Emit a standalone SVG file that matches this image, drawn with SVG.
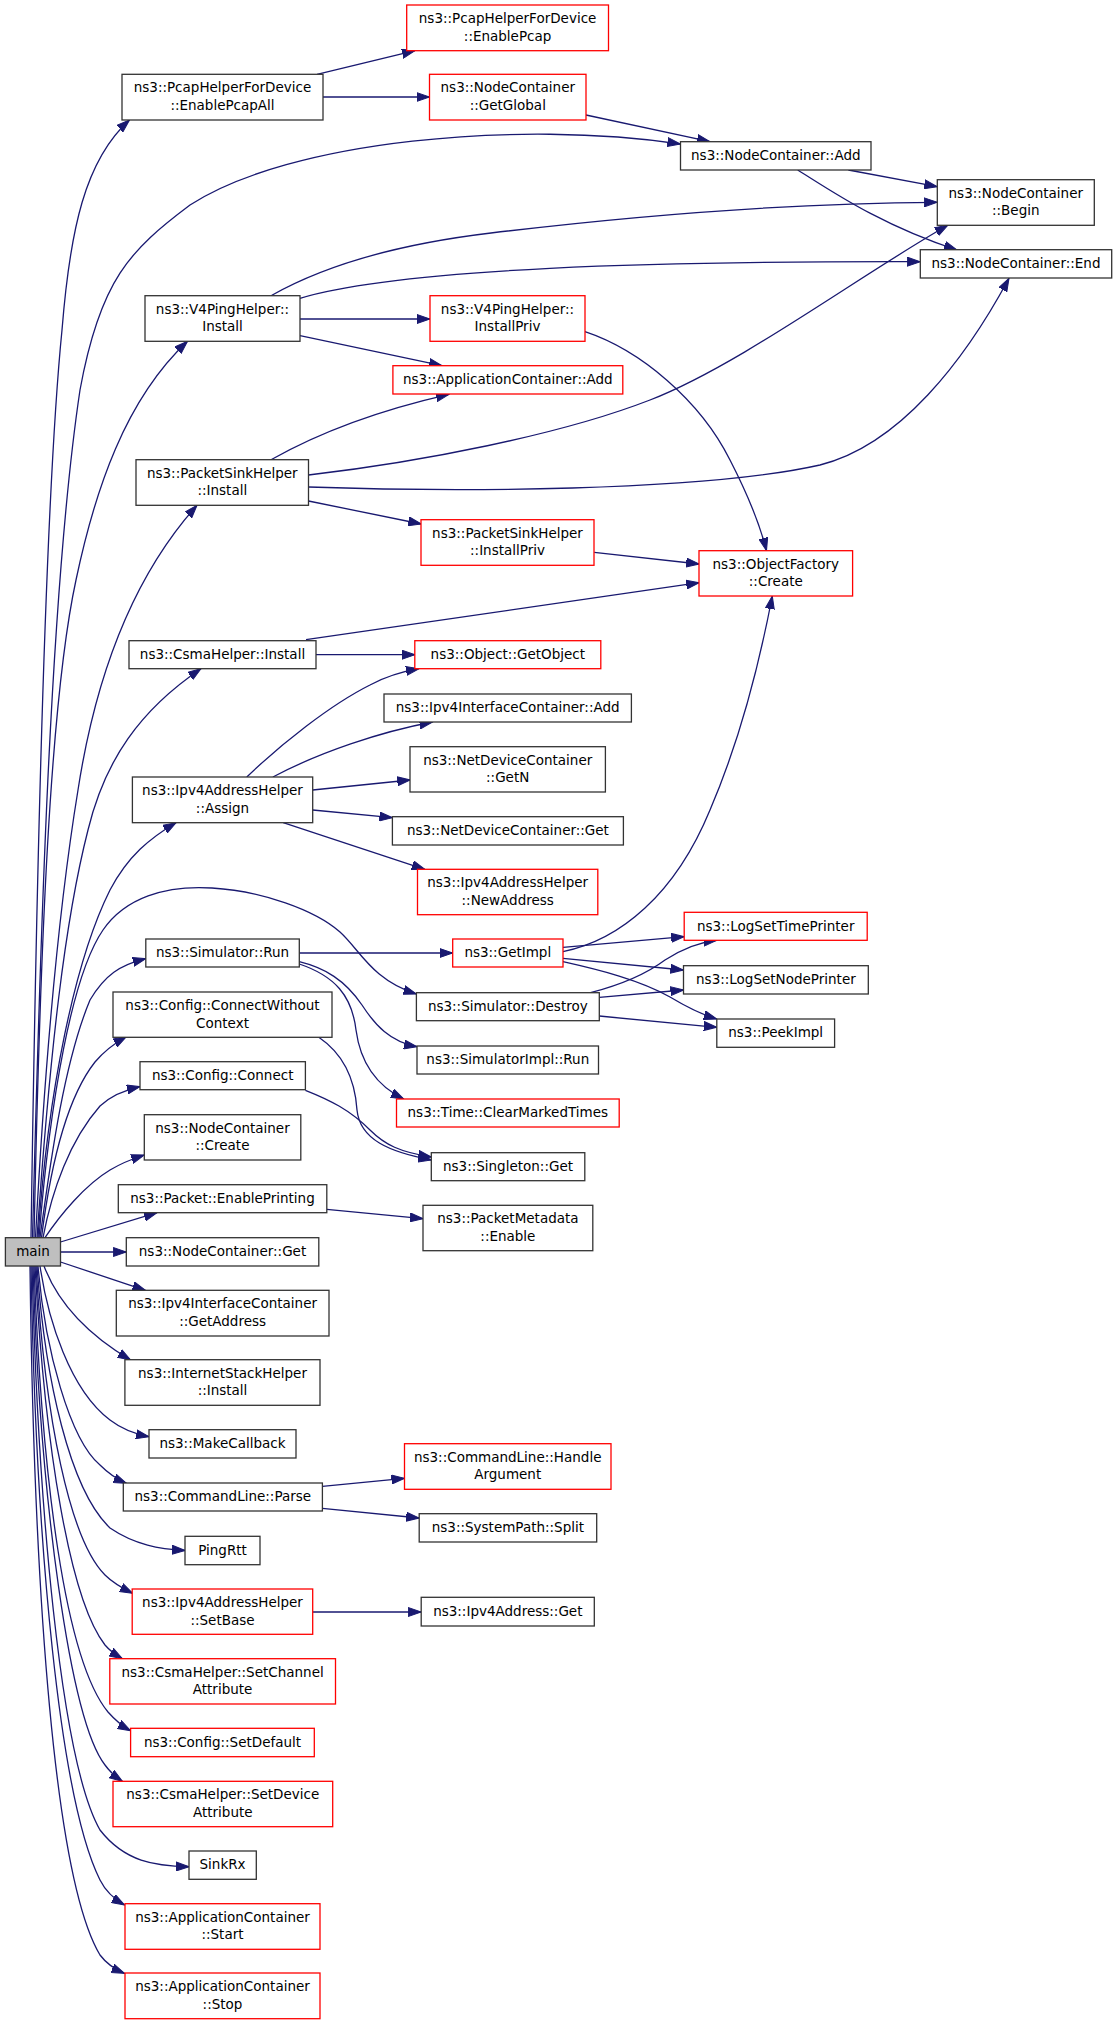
<svg xmlns="http://www.w3.org/2000/svg" width="1117" height="2024" viewBox="0 0 1117 2024">
<style>
.n rect{fill:#fff;stroke:#333;stroke-width:1.3}
.r rect{stroke:#f00}
.m rect{fill:#bfbfbf}
text{font-family:"DejaVu Sans","Liberation Sans",sans-serif;font-size:13.5px;text-anchor:middle;fill:#000}
#edges path{fill:none;stroke:#191970;stroke-width:1.3;marker-end:url(#a)}
</style>
<defs>
<marker id="a" markerUnits="userSpaceOnUse" markerWidth="14" markerHeight="10" viewBox="0 0 14 10" refX="13" refY="5" orient="auto"><path d="M0,0.5 L13,5 L0,9.5 z" fill="#191970" stroke="#191970" stroke-width="1"/></marker>
</defs>
<rect width="1117" height="2024" fill="#fff"/>
<g id="edges">
<path d="M317,74.3 L415,50.7"/>
<path d="M323,97 L429.5,97"/>
<path d="M586,115 L710,141.7"/>
<path d="M32.5,1237.7 C40,950 50,590 80,390 C100,280 130,250 190,205 C290,140 520,120 680.5,144"/>
<path d="M31,1237.7 C36,900 45,500 62,330 C70,230 85,160 129.5,120"/>
<path d="M34,1237.7 C40,950 50,700 76,580 C95,490 125,400 187.5,341.3"/>
<path d="M35.5,1237.7 C45,1060 60,900 78,790 C95,680 130,580 197,505.3"/>
<path d="M37,1237.7 C50,1050 65,920 88,830 C105,760 140,710 201,668.7"/>
<path d="M38,1237.7 C48,1090 75,960 110,890 C128,856 150,838 176,822.7"/>
<path d="M40,1237.7 C52,1150 65,1060 90,1000 C105,975 120,965 145.8,958.7"/>
<path d="M39,1237.7 C50,1100 72,975 103,930 C125,898 165,885 212,888 C262,891 315,910 340,932 C360,950 372,980 416.4,994"/>
<path d="M41.5,1237.7 C50,1170 65,1100 95,1062 C105,1050 115,1043 126.3,1036.7"/>
<path d="M43,1237.7 C52,1190 70,1140 100,1106 C112,1095 125,1090 140,1086.7"/>
<path d="M45,1237.7 C60,1215 85,1185 110,1170 C120,1164 132,1159 144.3,1155"/>
<path d="M60.5,1242 L157,1212.7"/>
<path d="M60.5,1252 L126.3,1252"/>
<path d="M60.5,1262 L145.4,1290.3"/>
<path d="M44,1266 C55,1295 80,1330 130.6,1360"/>
<path d="M40,1266 C48,1320 70,1390 110,1420 C123,1430 135,1434 149,1436.7"/>
<path d="M38,1266 C45,1350 70,1440 100,1465 C108,1473 116,1479 126.5,1483.3"/>
<path d="M37,1266 C45,1380 70,1490 110,1528 C135,1545 160,1549 185,1550.5"/>
<path d="M36,1266 C45,1420 70,1540 105,1575 C112,1582 122,1588 132.7,1593.3"/>
<path d="M35,1266 C45,1450 70,1600 105,1645 C110,1651 116,1655 122.4,1658.7"/>
<path d="M34,1266 C42,1480 65,1660 108,1712 C115,1720 122,1726 130.6,1730.7"/>
<path d="M33,1266 C40,1500 70,1720 105,1765 C110,1772 116,1777 122.4,1781.3"/>
<path d="M32,1266 C38,1500 60,1760 100,1830 C125,1862 155,1866 189,1866.7"/>
<path d="M31,1266 C36,1550 60,1800 100,1880 C106,1892 114,1899 124.5,1905"/>
<path d="M30,1266 C34,1600 55,1880 100,1955 C106,1963 114,1969 124.5,1973.3"/>
<path d="M271,295.7 C320,268 390,245 491,233 C640,215 800,203 937.3,202.3"/>
<path d="M300,298.3 C340,286 420,275 550,268.3 C680,262 820,261.5 920.3,261.7"/>
<path d="M300,319 L430,319"/>
<path d="M300,335.7 L442,365.7"/>
<path d="M585,331.7 C640,350 700,400 730,460 C748,495 760,525 766.5,550.7"/>
<path d="M271,459.7 C320,432 380,410 449,394.3"/>
<path d="M308.5,475 C420,462 560,435 650,400 C740,365 860,275 947.8,225.3"/>
<path d="M308.5,487 C450,492 700,492 820,465 C900,445 965,360 1009,278.3"/>
<path d="M308.5,501 L421.3,524"/>
<path d="M594.3,552.3 L699.2,564"/>
<path d="M306,639.7 L699.2,582.7"/>
<path d="M316,654.7 L415,654.7"/>
<path d="M246.8,777 C280,745 330,705 370,685 C385,677 400,672 419,668.7"/>
<path d="M272.9,777 C320,752 380,732 432.5,722"/>
<path d="M312.7,790 L410.3,780"/>
<path d="M312.7,810 L392.4,817.7"/>
<path d="M283.2,822.7 L424.8,869.3"/>
<path d="M299.3,953 L452.7,953"/>
<path d="M299.3,961.7 C325,968 345,980 362,1005 C375,1025 390,1042 417,1046.7"/>
<path d="M299.3,964 C335,976 352,996 356,1030 C360,1060 375,1085 403.8,1099"/>
<path d="M318.8,1037.3 C345,1055 355,1080 357,1110 C360,1140 390,1152 431.3,1160"/>
<path d="M305.4,1090.3 C330,1100 350,1110 370,1130 C385,1145 400,1152 431.3,1157"/>
<path d="M563,951.7 C620,940 675,895 710,810 C740,740 760,660 772.3,596"/>
<path d="M563,947.3 L684.2,936.7"/>
<path d="M563,958.3 L683.5,970"/>
<path d="M563,961.7 C600,970 640,980 670,997 C685,1006 700,1014 716.8,1019"/>
<path d="M590.5,992.7 C620,985 645,975 665,960 C685,947 700,942 716.8,940.3"/>
<path d="M599.3,997.3 L683.5,990"/>
<path d="M599.3,1016 L716.8,1027.3"/>
<path d="M326.8,1209.3 L423,1218.7"/>
<path d="M322.4,1486.3 L404.5,1478.3"/>
<path d="M322.4,1508.3 L419.2,1518"/>
<path d="M312.7,1612 L421.2,1612"/>
<path d="M848.4,170 L937.3,186.7"/>
<path d="M797.7,170 C830,190 880,225 957,250"/>
</g>
<g id="n1" class="n m"><rect x="5.4" y="1237.7" width="55.1" height="28.3"/><text x="33" y="1256">main</text></g>
<g id="n2" class="n"><rect x="122" y="74.3" width="201" height="45.7"/><text x="222.5" y="92.3">ns3::PcapHelperForDevice</text><text x="222.5" y="109.8">::EnablePcapAll</text></g>
<g id="n3" class="n r"><rect x="406.7" y="5" width="201.8" height="45.7"/><text x="507.6" y="23">ns3::PcapHelperForDevice</text><text x="507.6" y="40.5">::EnablePcap</text></g>
<g id="n4" class="n r"><rect x="429.5" y="74.3" width="156.5" height="45.7"/><text x="507.8" y="92.3">ns3::NodeContainer</text><text x="507.8" y="109.8">::GetGlobal</text></g>
<g id="n5" class="n"><rect x="680.5" y="141.7" width="190.5" height="28.3"/><text x="775.8" y="160">ns3::NodeContainer::Add</text></g>
<g id="n6" class="n"><rect x="937.3" y="179.7" width="157" height="45.6"/><text x="1015.8" y="197.7">ns3::NodeContainer</text><text x="1015.8" y="215.2">::Begin</text></g>
<g id="n7" class="n"><rect x="920.3" y="249.7" width="191.4" height="28.3"/><text x="1016" y="268">ns3::NodeContainer::End</text></g>
<g id="n8" class="n"><rect x="145" y="295.7" width="155" height="45.6"/><text x="222.5" y="313.7">ns3::V4PingHelper::</text><text x="222.5" y="331.2">Install</text></g>
<g id="n9" class="n r"><rect x="430" y="295.7" width="155" height="45.6"/><text x="507.5" y="313.7">ns3::V4PingHelper::</text><text x="507.5" y="331.2">InstallPriv</text></g>
<g id="n10" class="n r"><rect x="392.9" y="365.7" width="229.9" height="28.3"/><text x="507.8" y="384">ns3::ApplicationContainer::Add</text></g>
<g id="n11" class="n"><rect x="136" y="459.7" width="172.5" height="45.6"/><text x="222.3" y="477.7">ns3::PacketSinkHelper</text><text x="222.3" y="495.2">::Install</text></g>
<g id="n12" class="n r"><rect x="421" y="519.7" width="173" height="45.6"/><text x="507.5" y="537.7">ns3::PacketSinkHelper</text><text x="507.5" y="555.2">::InstallPriv</text></g>
<g id="n13" class="n r"><rect x="699" y="550.7" width="153.6" height="45.3"/><text x="775.8" y="568.7">ns3::ObjectFactory</text><text x="775.8" y="586.2">::Create</text></g>
<g id="n14" class="n"><rect x="129" y="640.7" width="187" height="28"/><text x="222.5" y="659">ns3::CsmaHelper::Install</text></g>
<g id="n15" class="n r"><rect x="414.8" y="640.7" width="186" height="28"/><text x="507.8" y="659">ns3::Object::GetObject</text></g>
<g id="n16" class="n"><rect x="384" y="694" width="247.4" height="28"/><text x="507.7" y="712.3">ns3::Ipv4InterfaceContainer::Add</text></g>
<g id="n17" class="n"><rect x="132.4" y="777" width="180.3" height="45.7"/><text x="222.5" y="795">ns3::Ipv4AddressHelper</text><text x="222.5" y="812.5">::Assign</text></g>
<g id="n18" class="n"><rect x="410" y="746.7" width="195.4" height="45.3"/><text x="507.7" y="764.7">ns3::NetDeviceContainer</text><text x="507.7" y="782.2">::GetN</text></g>
<g id="n19" class="n"><rect x="392.4" y="816.7" width="231" height="28.3"/><text x="507.9" y="835">ns3::NetDeviceContainer::Get</text></g>
<g id="n20" class="n r"><rect x="417.5" y="869.3" width="180.3" height="45.4"/><text x="507.7" y="887.3">ns3::Ipv4AddressHelper</text><text x="507.7" y="904.8">::NewAddress</text></g>
<g id="n21" class="n"><rect x="145.8" y="939" width="153.5" height="28"/><text x="222.5" y="957.3">ns3::Simulator::Run</text></g>
<g id="n22" class="n r"><rect x="452.7" y="939" width="110.3" height="28"/><text x="507.8" y="957.3">ns3::GetImpl</text></g>
<g id="n23" class="n r"><rect x="684.2" y="912.3" width="183" height="28"/><text x="775.7" y="930.6">ns3::LogSetTimePrinter</text></g>
<g id="n24" class="n"><rect x="683.5" y="965.7" width="184.8" height="28.3"/><text x="775.9" y="984">ns3::LogSetNodePrinter</text></g>
<g id="n25" class="n"><rect x="416.4" y="992.7" width="182.9" height="28"/><text x="507.8" y="1011">ns3::Simulator::Destroy</text></g>
<g id="n26" class="n"><rect x="716.8" y="1019" width="117.8" height="28.3"/><text x="775.7" y="1037.3">ns3::PeekImpl</text></g>
<g id="n27" class="n"><rect x="113" y="992" width="219" height="45.3"/><text x="222.5" y="1010">ns3::Config::ConnectWithout</text><text x="222.5" y="1027.5">Context</text></g>
<g id="n28" class="n"><rect x="417" y="1046" width="181.5" height="28"/><text x="507.8" y="1064.3">ns3::SimulatorImpl::Run</text></g>
<g id="n29" class="n"><rect x="140" y="1061.7" width="165.4" height="28"/><text x="222.7" y="1080">ns3::Config::Connect</text></g>
<g id="n30" class="n r"><rect x="396.5" y="1099" width="222.7" height="28"/><text x="507.8" y="1117.3">ns3::Time::ClearMarkedTimes</text></g>
<g id="n31" class="n"><rect x="144.3" y="1114.7" width="156.5" height="45.3"/><text x="222.5" y="1132.7">ns3::NodeContainer</text><text x="222.5" y="1150.2">::Create</text></g>
<g id="n32" class="n"><rect x="431.3" y="1152.7" width="153.5" height="28"/><text x="508" y="1171">ns3::Singleton::Get</text></g>
<g id="n33" class="n"><rect x="118.3" y="1184.7" width="208.5" height="28"/><text x="222.5" y="1203">ns3::Packet::EnablePrinting</text></g>
<g id="n34" class="n"><rect x="423" y="1205.3" width="169.8" height="45.4"/><text x="507.9" y="1223.3">ns3::PacketMetadata</text><text x="507.9" y="1240.8">::Enable</text></g>
<g id="n35" class="n"><rect x="126.3" y="1237.7" width="192.5" height="28.3"/><text x="222.5" y="1256">ns3::NodeContainer::Get</text></g>
<g id="n36" class="n"><rect x="116.3" y="1290.3" width="212.7" height="45.7"/><text x="222.6" y="1308.3">ns3::Ipv4InterfaceContainer</text><text x="222.6" y="1325.8">::GetAddress</text></g>
<g id="n37" class="n"><rect x="124.9" y="1359.7" width="195.1" height="45.6"/><text x="222.5" y="1377.7">ns3::InternetStackHelper</text><text x="222.5" y="1395.2">::Install</text></g>
<g id="n38" class="n"><rect x="149" y="1429.7" width="147" height="28.3"/><text x="222.5" y="1448">ns3::MakeCallback</text></g>
<g id="n39" class="n"><rect x="123.3" y="1483" width="199.1" height="28"/><text x="222.8" y="1501.3">ns3::CommandLine::Parse</text></g>
<g id="n40" class="n r"><rect x="404.5" y="1443.7" width="206.5" height="45.6"/><text x="507.7" y="1461.7">ns3::CommandLine::Handle</text><text x="507.7" y="1479.2">Argument</text></g>
<g id="n41" class="n"><rect x="419.2" y="1513.7" width="177.5" height="28.3"/><text x="507.9" y="1532">ns3::SystemPath::Split</text></g>
<g id="n42" class="n"><rect x="185" y="1536.3" width="75" height="28.4"/><text x="222.5" y="1554.6">PingRtt</text></g>
<g id="n43" class="n r"><rect x="132.2" y="1589" width="180.5" height="45.3"/><text x="222.5" y="1607">ns3::Ipv4AddressHelper</text><text x="222.5" y="1624.5">::SetBase</text></g>
<g id="n44" class="n"><rect x="421.2" y="1597.3" width="173.1" height="28.7"/><text x="507.8" y="1615.8">ns3::Ipv4Address::Get</text></g>
<g id="n45" class="n r"><rect x="109.8" y="1658.7" width="225.7" height="45.3"/><text x="222.6" y="1676.7">ns3::CsmaHelper::SetChannel</text><text x="222.6" y="1694.2">Attribute</text></g>
<g id="n46" class="n r"><rect x="130.6" y="1728.3" width="183.7" height="28.4"/><text x="222.5" y="1746.6">ns3::Config::SetDefault</text></g>
<g id="n47" class="n r"><rect x="113" y="1781.3" width="219.7" height="45.4"/><text x="222.8" y="1799.3">ns3::CsmaHelper::SetDevice</text><text x="222.8" y="1816.8">Attribute</text></g>
<g id="n48" class="n"><rect x="189" y="1851" width="67.3" height="28.3"/><text x="222.6" y="1869.3">SinkRx</text></g>
<g id="n49" class="n r"><rect x="125" y="1903.7" width="195" height="45.6"/><text x="222.5" y="1921.7">ns3::ApplicationContainer</text><text x="222.5" y="1939.2">::Start</text></g>
<g id="n50" class="n r"><rect x="125" y="1973" width="195" height="45.7"/><text x="222.5" y="1991">ns3::ApplicationContainer</text><text x="222.5" y="2008.5">::Stop</text></g>
</svg>
